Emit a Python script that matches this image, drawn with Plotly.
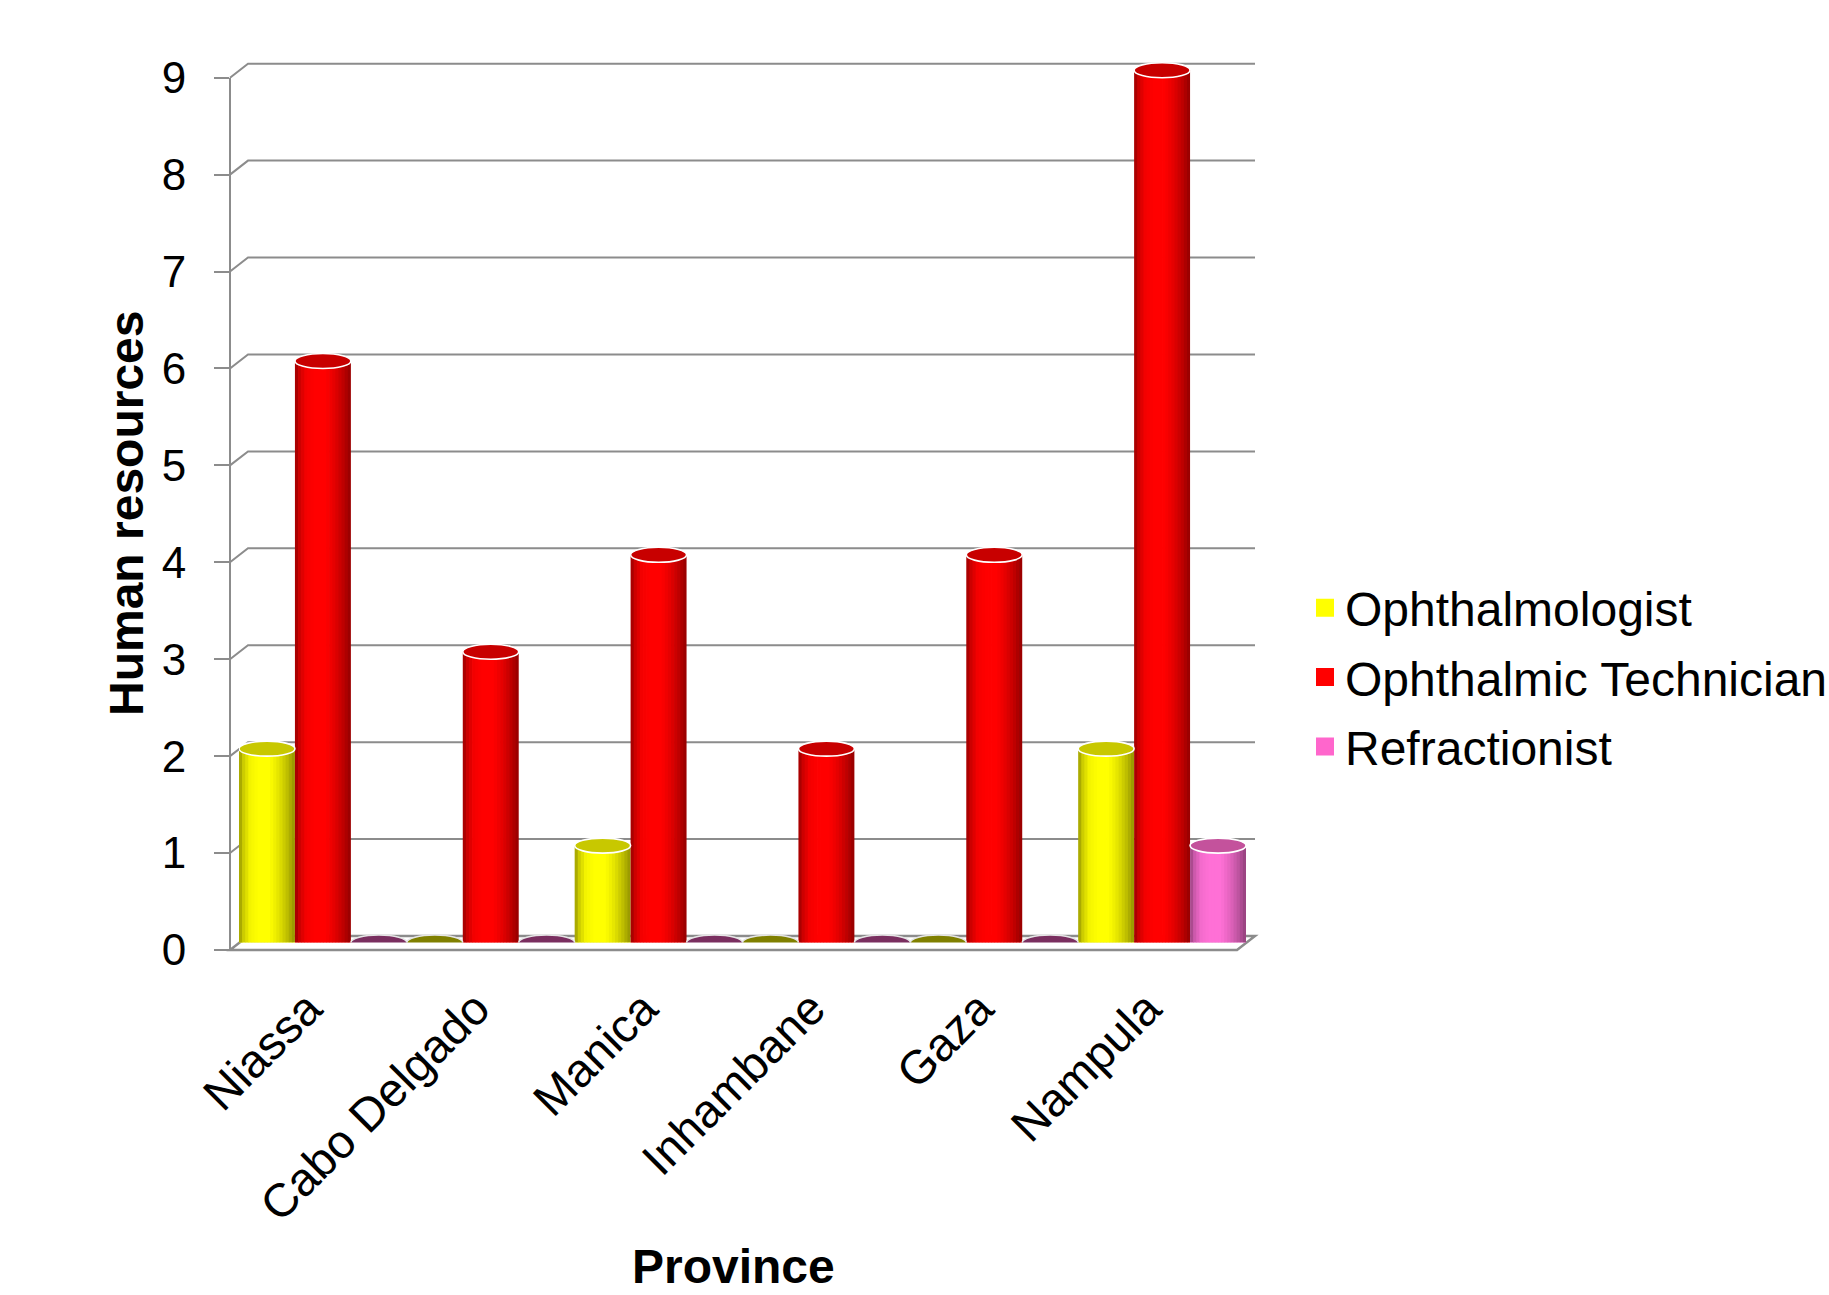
import numpy as np
import plotly.graph_objects as go

# ---- data -------------------------------------------------------------
provinces = ["Niassa", "Cabo Delgado", "Manica", "Inhambane", "Gaza", "Nampula"]
ophthalmologist = [2, 0, 1, 0, 0, 2]
technician = [6, 3, 4, 2, 4, 9]
refractionist = [0, 0, 0, 0, 0, 1]

series_names = ["Ophthalmologist", "Ophthalmic Technician", "Refractionist"]
series_values = [ophthalmologist, technician, refractionist]
y_ticks = list(range(0, 10))
Y_MIN, Y_MAX = 0, 9

# ---- styling ----------------------------------------------------------
body_rgb = [(255, 255, 0), (255, 0, 0), (255, 112, 214)]
legend_colors = ["#ffff00", "#ff0000", "#ff66cc"]
top_colors = ["#c8c800", "#c80000", "#c4529c"]
empty_top_colors = ["#808000", "#800000", "#7a2f60"]
grid_color = "#8c8c8c"
font_family = "Liberation Sans, Arial, sans-serif"

W, H = 1829, 1295
FRONT_X = 230              # front y-axis line (px)
Y0_PX, Y9_PX = 950, 77.7   # front plane: value 0 and value 9 (px)
DX, DY = 18, 14            # depth of the 3-D box (px)
BAR_LEFT, BAR_RIGHT = 239, 1246  # mid-plane extent of the category axis (px)
ELL_H = 7.5                # half-height of cylinder caps (px)
HEADROOM = 0.5             # extra value range above the top so caps are not clipped

def px_x(p):
    return p / W

def px_y(p):
    return 1 - p / H

unit_px = (Y0_PX - Y9_PX) / (Y_MAX - Y_MIN)

# horizontal shading profile of a cylinder (left -> right)
prof_t = [0.0, 0.08, 0.2, 0.35, 0.55, 0.7, 0.85, 1.0]
prof_f = [0.6, 0.8, 0.96, 1.0, 1.0, 0.9, 0.76, 0.58]
N_STRIPS = 18

def shade(rgb, f):
    return "rgb(%d,%d,%d)" % tuple(int(round(c * f)) for c in rgb)

bar_w = 1 / 3
left_edges = [-0.5, -0.5 + bar_w, -0.5 + 2 * bar_w]

fig = go.Figure()

# cylinder bodies, drawn as vertical strips of graded colour
for s, vals in enumerate(series_values):
    sw = bar_w / N_STRIPS
    for k in range(N_STRIPS):
        t = (k + 0.5) / N_STRIPS
        f = float(np.interp(t, prof_t, prof_f))
        w = sw * (1.25 if k < N_STRIPS - 1 else 1.0)
        fig.add_trace(go.Bar(
            x=provinces, y=vals,
            offset=left_edges[s] + k * sw, width=w,
            marker=dict(color=shade(body_rgb[s], f), line=dict(width=0)),
            showlegend=False, hoverinfo="skip",
            xaxis="x", yaxis="y2",
        ))

# legend entries
for s, name in enumerate(series_names):
    fig.add_trace(go.Scatter(
        x=[None], y=[None], mode="markers", name=name, legendgroup=name,
        marker=dict(symbol="square", size=16, color=legend_colors[s],
                    line=dict(color=legend_colors[s], width=2)),
        xaxis="x", yaxis="y",
    ))

shapes = []

# back-wall gridlines with the diagonal link to the front axis, and the floor
depth_w = BAR_RIGHT + 9 - FRONT_X - DX
for v in y_ticks:
    path = "M0,0 L%d,%d L%d,%d" % (DX, DY, DX + depth_w, DY)
    if v == 0:
        path += " L%d,0 Z" % depth_w
    shapes.append(dict(
        type="path", layer="below", path=path,
        xref="paper", xsizemode="pixel", xanchor=px_x(FRONT_X),
        yref="y domain", ysizemode="pixel",
        yanchor=(v - Y_MIN) / (Y_MAX - Y_MIN),
        line=dict(color=grid_color, width=2 if v else 2.5),
    ))

# cylinder bottoms and caps
for s, vals in enumerate(series_values):
    for i, v in enumerate(vals):
        x0 = i + left_edges[s]
        x1 = x0 + bar_w
        if v > 0:
            shapes.append(dict(
                type="circle", layer="below", xref="x", yref="y2",
                x0=x0, x1=x1, ysizemode="pixel", yanchor=0,
                y0=-ELL_H, y1=ELL_H,
                fillcolor=shade(body_rgb[s], 0.92), line=dict(width=0),
            ))
        shapes.append(dict(
            type="circle", layer="above", xref="x", yref="y2",
            x0=x0, x1=x1, ysizemode="pixel", yanchor=v,
            y0=-ELL_H, y1=ELL_H,
            fillcolor=top_colors[s] if v > 0 else empty_top_colors[s],
            line=dict(color="white" if v > 0 else "#e6e6e6", width=1.6),
        ))

annotations = [
    dict(text="Human resources", xref="paper", yref="paper",
         x=px_x(127), y=px_y(513), xanchor="center", yanchor="middle",
         textangle=-90, showarrow=False,
         font=dict(family=font_family, size=48, color="black", weight="bold")),
    dict(text="Province", xref="paper", yref="paper",
         x=px_x(733), y=px_y(1266), xanchor="center", yanchor="middle",
         showarrow=False,
         font=dict(family=font_family, size=48, color="black", weight="bold")),
]

mid_bottom = Y0_PX - ELL_H
mid_top = Y9_PX - ELL_H - HEADROOM * unit_px

fig.update_layout(
    template="none",
    width=W, height=H,
    margin=dict(l=0, r=0, t=0, b=0, pad=0, autoexpand=False),
    paper_bgcolor="white", plot_bgcolor="rgba(0,0,0,0)",
    font=dict(family=font_family, color="black"),
    barmode="overlay",
    shapes=shapes,
    annotations=annotations,
    xaxis=dict(
        domain=[px_x(BAR_LEFT), px_x(BAR_RIGHT)],
        type="category", categoryorder="array", categoryarray=provinces,
        range=[-0.5, 5.5], anchor="y2",
        showline=False, showgrid=False, zeroline=False, ticks="",
        tickangle=-45, tickfont=dict(size=47, family=font_family, color="black"),
        ticklabelstandoff=28, ticklabelshift=-15,
    ),
    yaxis2=dict(
        domain=[px_y(mid_bottom), px_y(mid_top)],
        range=[Y_MIN, Y_MAX + HEADROOM], anchor="x", visible=False,
    ),
    yaxis=dict(
        domain=[px_y(Y0_PX), px_y(Y9_PX)],
        range=[Y_MIN, Y_MAX], anchor="free", position=px_x(FRONT_X),
        tickmode="array", tickvals=y_ticks,
        showline=True, linecolor=grid_color, linewidth=2,
        ticks="outside", ticklen=15, tickcolor=grid_color, tickwidth=2,
        showgrid=False, zeroline=False,
        tickfont=dict(size=44, family=font_family, color="black"),
        ticklabelstandoff=19,
    ),
    legend=dict(
        x=px_x(1305), y=px_y(570), xanchor="left", yanchor="top",
        font=dict(size=48, family=font_family, color="black"),
        bgcolor="rgba(0,0,0,0)", tracegroupgap=4, itemsizing="trace",
    ),
)

fig.write_html("out.html")
